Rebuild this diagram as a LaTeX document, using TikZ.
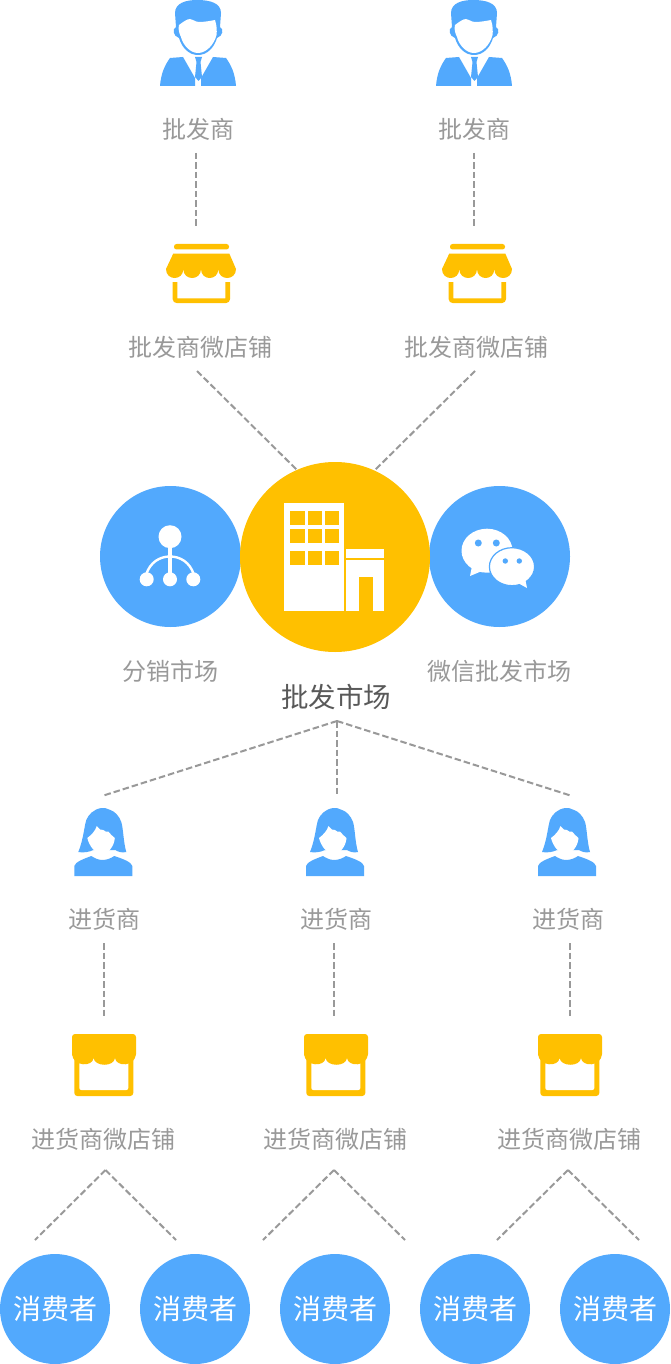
\documentclass[tikz,border=0pt]{standalone}
\usepackage{fontspec}
\setmainfont{Noto Sans CJK SC}
\definecolor{iconblue}{HTML}{52A9FD}
\definecolor{shopyellow}{HTML}{FFC000}
\definecolor{labelgray}{HTML}{999999}
\tikzset{
  dashline/.style={draw=labelgray,line width=2pt,dash pattern=on 6.5pt off 3pt},
  lbl/.style={inner sep=0pt,text=labelgray,text height=20pt,text depth=3pt,font=\fontsize{24}{24}\selectfont},
  mainlbl/.style={inner sep=0pt,text=black!65,text height=23pt,text depth=3pt,font=\fontsize{27.5}{28}\selectfont},
  iconbox/.style={inner sep=0pt,minimum width=70pt,minimum height=66pt},
  market/.style={circle,inner sep=0pt,fill=iconblue,minimum size=141pt},
  hub/.style={circle,inner sep=0pt,fill=shopyellow,minimum size=190pt},
  consumer/.style={circle,inner sep=0pt,fill=iconblue,minimum size=110pt,text=white,font=\fontsize{28}{28}\selectfont},
  manicon/.pic={
    \fill[iconblue] (-23,13) .. controls (-23,3) and (-12,0) .. (-1,0) .. controls (12,0) and (23,3) .. (23,13) -- (22,27) .. controls (26,29) and (25,36) .. (19,38) .. controls (16,48) and (9,55) .. (0,55) .. controls (-9,55) and (-16,48) .. (-19,38) .. controls (-25,36) and (-26,29) .. (-22,27) -- cycle;
    \fill[white] (-19,25) .. controls (-15,22) and (-11,19) .. (-8,19) .. controls (-5,19) and (-3,22) .. (1,22) .. controls (6,22) and (12,21) .. (17,20) .. controls (19,26) and (19,31) .. (18.5,35) .. controls (16,45) and (8,53) .. (0,53) .. controls (-8,53) and (-15,45) .. (-17,37) .. controls (-19,33) and (-20,29) .. (-19,25) -- cycle;
    \fill[iconblue] (-38,86) .. controls (-37,73) and (-33,65) .. (-28,58) -- (-15,57) -- (-3,78) -- (-3,86) -- cycle;
    \fill[iconblue] (38,86) .. controls (37,73) and (33,65) .. (28,58) -- (15,57) -- (3,78) -- (3,86) -- cycle;
    \fill[iconblue] (-3,57) -- (4,57) -- (2.5,62) -- (4,77) -- (0.5,81) -- (-3,77) -- (-1.5,62) -- cycle;
  },
  shopicon/.pic={
    \fill[shopyellow,rounded corners=2.5pt] (-27,0) rectangle (28,5.5);
    \fill[shopyellow] (-27.7,9.5) -- (28.3,9.5) -- (35,25) .. controls (35,37) and (17.3,37) .. (17.3,25) .. controls (17.3,37) and (0,37) .. (0,25) .. controls (0,37) and (-17.7,37) .. (-17.7,25) .. controls (-17.7,37) and (-35,37) .. (-35,25) -- cycle;
    \draw[shopyellow,line width=4.6pt,rounded corners=2pt] (-26,38) -- (-26,56.7) -- (26.7,56.7) -- (26.7,38);
  },
  womanicon/.pic={
    \fill[iconblue] (-1.6,0) .. controls (-10,1) and (-15,7) .. (-17,12) .. controls (-19,18) and (-20,32) .. (-25,44) .. controls (-20,45) and (-14,44) .. (-10,42) -- (12,42) .. controls (15,44) and (19,45) .. (23,44) .. controls (20,34) and (20,20) .. (18,14) .. controls (16,8) and (11,3) .. (7,2) .. controls (4,0) and (1,0) .. (-1.6,0) -- cycle;
    \fill[white] (-6.5,18) .. controls (-4,21) and (-2,23) .. (0,22) .. controls (2,24) and (3,24) .. (5,23.5) .. controls (7,26) and (9,28) .. (11.5,30) .. controls (11,38) and (5,46) .. (-1.6,46) .. controls (-8,46) and (-14,38) .. (-16,30) .. controls (-12,27) and (-8,23) .. (-6.5,18) -- cycle;
    \fill[iconblue] (-29,68) -- (-29,58) .. controls (-28,54) and (-20,51) .. (-12,48) .. controls (-9,50) and (-5,52) .. (-1,52) .. controls (4,52) and (8,50) .. (11,48) .. controls (20,51) and (28,54) .. (29,58) -- (29,68) -- cycle;
  },
  minishopicon/.pic={
    \fill[shopyellow,rounded corners=3pt] (-29.7,15) rectangle (29.3,62);
    \fill[white,rounded corners=2pt] (-24.7,15) rectangle (24.3,56);
    \fill[shopyellow,rounded corners=3pt] (-32,0) -- (32,0) -- (32,23) -- (-32,23) -- cycle;
    \fill[shopyellow] (-32,20) .. controls (-31,33) and (-11,33) .. (-10.5,24) .. controls (-9,33) and (10,33) .. (11,24) .. controls (12,33) and (31,33) .. (32,20) -- cycle;
  },
}
\begin{document}
\begin{tikzpicture}[x=1pt,y=-1pt]
\useasboundingbox (0,0) rectangle (670,1364);
\fill[white] (0,0) rectangle (670,1364);
\node[iconbox] (man1) at (198,43) {};
\node[iconbox] (man2) at (474,43) {};
\pic at (198,0) {manicon};
\pic at (474,0) {manicon};
\node[lbl] (wholesaler1) at (198,130) {批发商};
\node[lbl] (wholesaler2) at (474,130) {批发商};
\node[iconbox] (shop1) at (201,274) {};
\node[iconbox] (shop2) at (477,274) {};
\pic at (201,244) {shopicon};
\pic at (477,244) {shopicon};
\node[lbl] (shoplbl1) at (200,348) {批发商微店铺};
\node[lbl] (shoplbl2) at (476,348) {批发商微店铺};
\node[market] (fenxiao) at (170.5,556.5) {};
\node[market] (weixin) at (499.5,556.5) {};
\node[hub] (hub) at (335,557) {};
\draw[dashline] ([shift={(-2,23)}]wholesaler1.center) -- ([shift={(-5,-46)}]shop1.center);
\draw[dashline] ([shift={(0,23)}]wholesaler2.center) -- ([shift={(-3,-46)}]shop2.center);
\draw[dashline] ([shift={(-3,23)}]shoplbl1.center) -- ([shift={(-38,-87)}]hub.center);
\draw[dashline] ([shift={(-1,23)}]shoplbl2.center) -- ([shift={(40,-87)}]hub.center);
\fill[white] (170,536.7) circle (11.5);
\draw[white,line width=4.6pt] (170,536) -- (170,579);
\draw[white,line width=2.4pt] (146,575) .. controls (150,562) and (160,556.5) .. (170,556.5) .. controls (180,556.5) and (190,562) .. (194,575);
\foreach \x in {146.7,170,193.3} \fill[white] (\x,579.3) circle (7);
\fill[white] (284.3,503.3) rectangle (344.3,611);
\foreach \x in {290.3,307.5,324.5} \foreach \y in {510.7,529,551} \fill[shopyellow] (\x,\y) rectangle +(14.2,14.2);
\fill[white] (346,549.3) rectangle (384,558);
\fill[white] (346,559.5) rectangle (384,611);
\fill[shopyellow] (359,576.7) rectangle (373,611);
\fill[white] (487,550.7) ellipse [x radius=25.5,y radius=22];
\fill[white] (472,566) -- (470,576) -- (482,571) -- cycle;
\fill[iconblue] (478.3,543) circle (3.5);
\fill[iconblue] (496.3,543) circle (3.5);
\filldraw[draw=iconblue,fill=white,line width=1.2pt] (512,566.7) ellipse [x radius=22.6,y radius=19];
\fill[white] (518,583) -- (527,588) -- (525,578) -- cycle;
\fill[iconblue] (505.3,561) circle (2.7);
\fill[iconblue] (519.3,561) circle (2.7);
\node[lbl] (fenxiaolbl) at (170,672) {分销市场};
\node[lbl] (weixinlbl) at (499.5,672) {微信批发市场};
\node[mainlbl] (hublbl) at (336,697) {批发市场};
\node[iconbox] (woman1) at (103.3,842) {};
\node[iconbox] (woman2) at (335,842) {};
\node[iconbox] (woman3) at (567,842) {};
\pic at (103.3,808) {womanicon};
\pic at (335,808) {womanicon};
\pic at (567,808) {womanicon};
\draw[dashline] ([shift={(1,24)}]hublbl.center) -- ([shift={(-1.3,-46)}]woman1.center);
\draw[dashline] ([shift={(1,24)}]hublbl.center) -- ([shift={(2,-46)}]woman2.center);
\draw[dashline] ([shift={(1,24)}]hublbl.center) -- ([shift={(5,-46)}]woman3.center);
\node[lbl] (buyer1) at (104,920) {进货商};
\node[lbl] (buyer2) at (336,920) {进货商};
\node[lbl] (buyer3) at (568,920) {进货商};
\node[iconbox] (minishop1) at (104,1065) {};
\node[iconbox] (minishop2) at (336,1065) {};
\node[iconbox] (minishop3) at (570,1065) {};
\pic at (104,1034) {minishopicon};
\pic at (336,1034) {minishopicon};
\pic at (570,1034) {minishopicon};
\draw[dashline] ([shift={(0,23)}]buyer1.center) -- ([shift={(0,-48)}]minishop1.center);
\draw[dashline] ([shift={(-2,23)}]buyer2.center) -- ([shift={(-2,-48)}]minishop2.center);
\draw[dashline] ([shift={(2,23)}]buyer3.center) -- ([shift={(0,-48)}]minishop3.center);
\node[lbl] (minilbl1) at (103,1140) {进货商微店铺};
\node[lbl] (minilbl2) at (335,1140) {进货商微店铺};
\node[lbl] (minilbl3) at (569,1140) {进货商微店铺};
\foreach \x/\n in {55/1,195/2,335/3,475/4,615/5} \node[consumer] (con\n) at (\x,1309) {消费者};
\draw[dashline] ([shift={(2.5,30)}]minilbl1.center) -- ([shift={(-20,-69)}]con1.center);
\draw[dashline] ([shift={(2.5,30)}]minilbl1.center) -- ([shift={(-19,-69)}]con2.center);
\draw[dashline] ([shift={(-1,30)}]minilbl2.center) -- ([shift={(-72,-69)}]con3.center);
\draw[dashline] ([shift={(-1,30)}]minilbl2.center) -- ([shift={(70,-69)}]con3.center);
\draw[dashline] ([shift={(-1,30)}]minilbl3.center) -- ([shift={(22,-69)}]con4.center);
\draw[dashline] ([shift={(-1,30)}]minilbl3.center) -- ([shift={(24,-69)}]con5.center);
\end{tikzpicture}
\end{document}
